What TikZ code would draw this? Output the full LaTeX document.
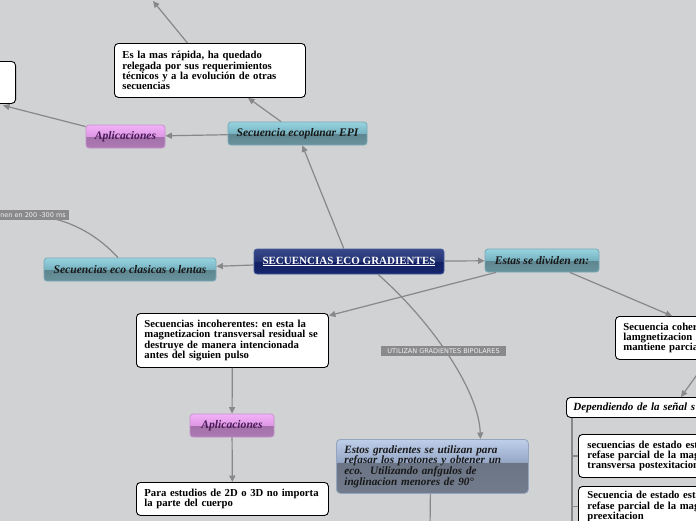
\documentclass[tikz,border=0pt]{standalone}
\usepackage{fontspec}
\setmainfont{Liberation Serif}
\newfontfamily\labfont{DejaVu Sans}
\usetikzlibrary{arrows.meta,calc}
\frenchspacing

\definecolor{bgc}{RGB}{209,210,212}
\definecolor{connc}{RGB}{136,136,138}
\definecolor{labc}{RGB}{138,138,140}
\definecolor{tealT}{RGB}{152,212,224}
\definecolor{tealT2}{RGB}{118,178,192}
\definecolor{tealB2}{RGB}{94,134,144}
\definecolor{tealB}{RGB}{104,146,156}
\definecolor{tealBd}{RGB}{120,170,182}
\definecolor{pinkT}{RGB}{242,178,247}
\definecolor{pinkT2}{RGB}{222,150,230}
\definecolor{pinkB2}{RGB}{164,112,170}
\definecolor{pinkB}{RGB}{172,122,178}
\definecolor{pinkBd}{RGB}{196,146,204}
\definecolor{pinktext}{RGB}{74,28,86}
\definecolor{navyT}{RGB}{56,72,136}
\definecolor{navyT2}{RGB}{34,50,114}
\definecolor{navyB2}{RGB}{18,32,100}
\definecolor{navyB}{RGB}{22,38,108}
\definecolor{navyBd}{RGB}{70,92,160}
\definecolor{bgrT}{RGB}{190,207,234}
\definecolor{bgrT2}{RGB}{150,168,198}
\definecolor{bgrB2}{RGB}{106,116,132}
\definecolor{bgrB}{RGB}{114,124,140}
\definecolor{bgrBd}{RGB}{150,165,190}

\pgfdeclareverticalshading{tealsh}{100bp}{color(0bp)=(tealB); color(25bp)=(tealB); color(49.5bp)=(tealB2); color(50bp)=(tealT2); color(75bp)=(tealT); color(100bp)=(tealT)}
\pgfdeclareverticalshading{pinksh}{100bp}{color(0bp)=(pinkB); color(25bp)=(pinkB); color(49.5bp)=(pinkB2); color(50bp)=(pinkT2); color(75bp)=(pinkT); color(100bp)=(pinkT)}
\pgfdeclareverticalshading{navysh}{100bp}{color(0bp)=(navyB); color(25bp)=(navyB); color(49.5bp)=(navyB2); color(50bp)=(navyT2); color(75bp)=(navyT); color(100bp)=(navyT)}
\pgfdeclareverticalshading{bgrsh}{100bp}{color(0bp)=(bgrB); color(25bp)=(bgrB); color(53.5bp)=(bgrB2); color(54bp)=(bgrT2); color(75bp)=(bgrT); color(100bp)=(bgrT)}

\newcommand{\oneline}[1]{\mbox{#1}}

\tikzset{
  conn/.style={draw=connc, line width=1.2pt, -{Triangle[length=6.5pt,width=6pt]}},
  plainln/.style={draw=connc, line width=1.2pt},
  wbox/.style={draw=black, fill=white, rounded corners=4pt, line width=0.9pt,
    inner xsep=8pt, inner ysep=0pt, align=left, anchor=north west,
    font=\fontsize{10.7}{10.2}\selectfont\bfseries, text=black},
  tealbox/.style={shading=tealsh, draw=tealBd, rounded corners=3pt, line width=0.8pt,
    inner sep=0pt, font=\fontsize{11.6}{12}\selectfont\bfseries\itshape, text=black!90},
  pinkbox/.style={shading=pinksh, draw=pinkBd, rounded corners=3pt, line width=0.8pt,
    inner sep=0pt, font=\fontsize{11.6}{12}\selectfont\bfseries\itshape, text=pinktext},
  navybox/.style={shading=navysh, draw=navyBd, rounded corners=3pt, line width=0.8pt,
    inner sep=0pt, font=\fontsize{11}{12}\selectfont\bfseries, text=white},
  bgrbox/.style={shading=bgrsh, draw=bgrBd, rounded corners=4pt, line width=0.8pt,
    inner xsep=8pt, inner ysep=0pt, align=left, anchor=north west,
    font=\fontsize{11.2}{10.3}\selectfont\bfseries\itshape, text=black!90},
  lab/.style={fill=labc, text=white!94!black, inner xsep=3pt, inner ysep=2.5pt,
    font=\labfont\fontsize{6.5}{7}\selectfont}
}

\begin{document}
\begin{tikzpicture}[x=1pt,y=-1pt]
\useasboundingbox (0,0) rectangle (696,520);
\clip (0,0) rectangle (696,520);
\fill[bgc] (-5,-5) rectangle (701,525);

% white text boxes
\node[wbox, text width=175pt, minimum height=54pt] (A) at (114,43)
  {\oneline{Es la mas rápida, ha quedado}\\\oneline{relegada por sus requerimientos}\\\oneline{técnicos y a la evolución de otras}\\\oneline{secuencias}};
\node[wbox, anchor=north east, minimum width=80pt, minimum height=42pt] (B) at (16,61) {};
\node[wbox, text width=176pt, minimum height=54pt] (H) at (136,313)
  {\oneline{Secuencias incoherentes: en esta la}\\\oneline{magnetizacion transversal residual se}\\\oneline{destruye de manera intencionada}\\\oneline{antes del siguien pulso}};
\node[wbox, text width=176pt, minimum height=33pt] (J) at (136,482)
  {\oneline{Para estudios de 2D o 3D no importa}\\\oneline{la parte del cuerpo}};
\node[wbox, text width=200pt, minimum height=43pt] (L) at (615,316)
  {\oneline{Secuencia coher}\\\oneline{lamgnetizacion}\\\oneline{mantiene parcia}};
\node[wbox, inner xsep=7pt, text width=200pt, minimum height=20pt,
  font=\fontsize{11}{11}\selectfont\bfseries\itshape] (M) at (566,397)
  {\oneline{Dependiendo de la señal s}};
\node[wbox, inner xsep=9pt, text width=200pt, minimum height=43pt] (N) at (578,434)
  {\oneline{secuencias de estado est}\\\oneline{refase parcial de la mag}\\\oneline{transversa postexitacion}};
\node[wbox, inner xsep=9pt, text width=200pt, minimum height=40pt] (O) at (578,486)
  {\oneline{Secuencia de estado esta}\\\oneline{refase parcial de la mag}\\\oneline{preexitacion}};

% shaded topic boxes
\node[pinkbox, minimum width=79pt, minimum height=23pt] (C) at (125.5,136.5) {Aplicaciones};
\node[tealbox, minimum width=139pt, minimum height=23pt] (D) at (297.5,133.5) {Secuencia ecoplanar EPI};
\node[tealbox, minimum width=172pt, minimum height=23pt] (E) at (130,269.5) {Secuencias eco clasicas o lentas};
\node[navybox, minimum width=190pt, minimum height=25pt] (F) at (349,261.5) {\underline{SECUENCIAS ECO GRADIENTES}};
\node[tealbox, minimum width=114pt, minimum height=23pt] (G) at (542,260.5) {Estas se dividen en:};
\node[pinkbox, minimum width=84pt, minimum height=23pt] (I) at (232,425.5) {Aplicaciones};
\node[bgrbox, text width=176pt, minimum height=54pt] (K) at (336,439)
  {\oneline{Estos gradientes se utilizan para}\\\oneline{refasar los protones y obtener un}\\\oneline{eco.\ \ Utilizando anfgulos de}\\\oneline{inglinacion menores de 90°}};

% connectors
\coordinate (topA) at (153,1);
\draw[conn] (A) -- (topA);
\draw[conn] (D) -- (A);
\draw[conn] (D) -- (C);
\draw[conn] (C.166) -- ([xshift=-13pt,yshift=-1.5pt]B.south east);
\draw[conn] (F) -- (D);
\draw[conn] (F) -- (E);
\draw[conn] (F) -- (G);
\draw[conn] (G) -- (H);
\draw[conn] (G) -- (L);
\draw[conn] (L) -- (M);
\draw[conn] (H) -- (I);
\draw[conn] (I) -- (J);

\coordinate (lab1pos) at (40,216);
\draw[plainln] ([xshift=-12pt]E.north) .. controls (100,238) and (75,221) .. (lab1pos);
\node[lab, anchor=east] (lab1) at (69,215) {nen en 200 -300 ms};

\draw[conn] ([xshift=29pt]F.south) .. controls (430,320) and (479,390) .. ([xshift=48pt]K.north);
\node[lab, inner xsep=6pt] (lab2) at (443.5,351) {UTILIZAN GRADIENTES BIPOLARES};

\coordinate (kd) at (430,530);
\draw[plainln] ([xshift=-2pt]K.south) -- (kd);

\coordinate (tb) at (572,530);
\draw[plainln] ([xshift=6pt]M.south west) -- (tb);
\draw[plainln] (N.west -| tb) -- (N.west);
\draw[plainln] (O.west -| tb) -- (O.west);
\end{tikzpicture}
\end{document}
